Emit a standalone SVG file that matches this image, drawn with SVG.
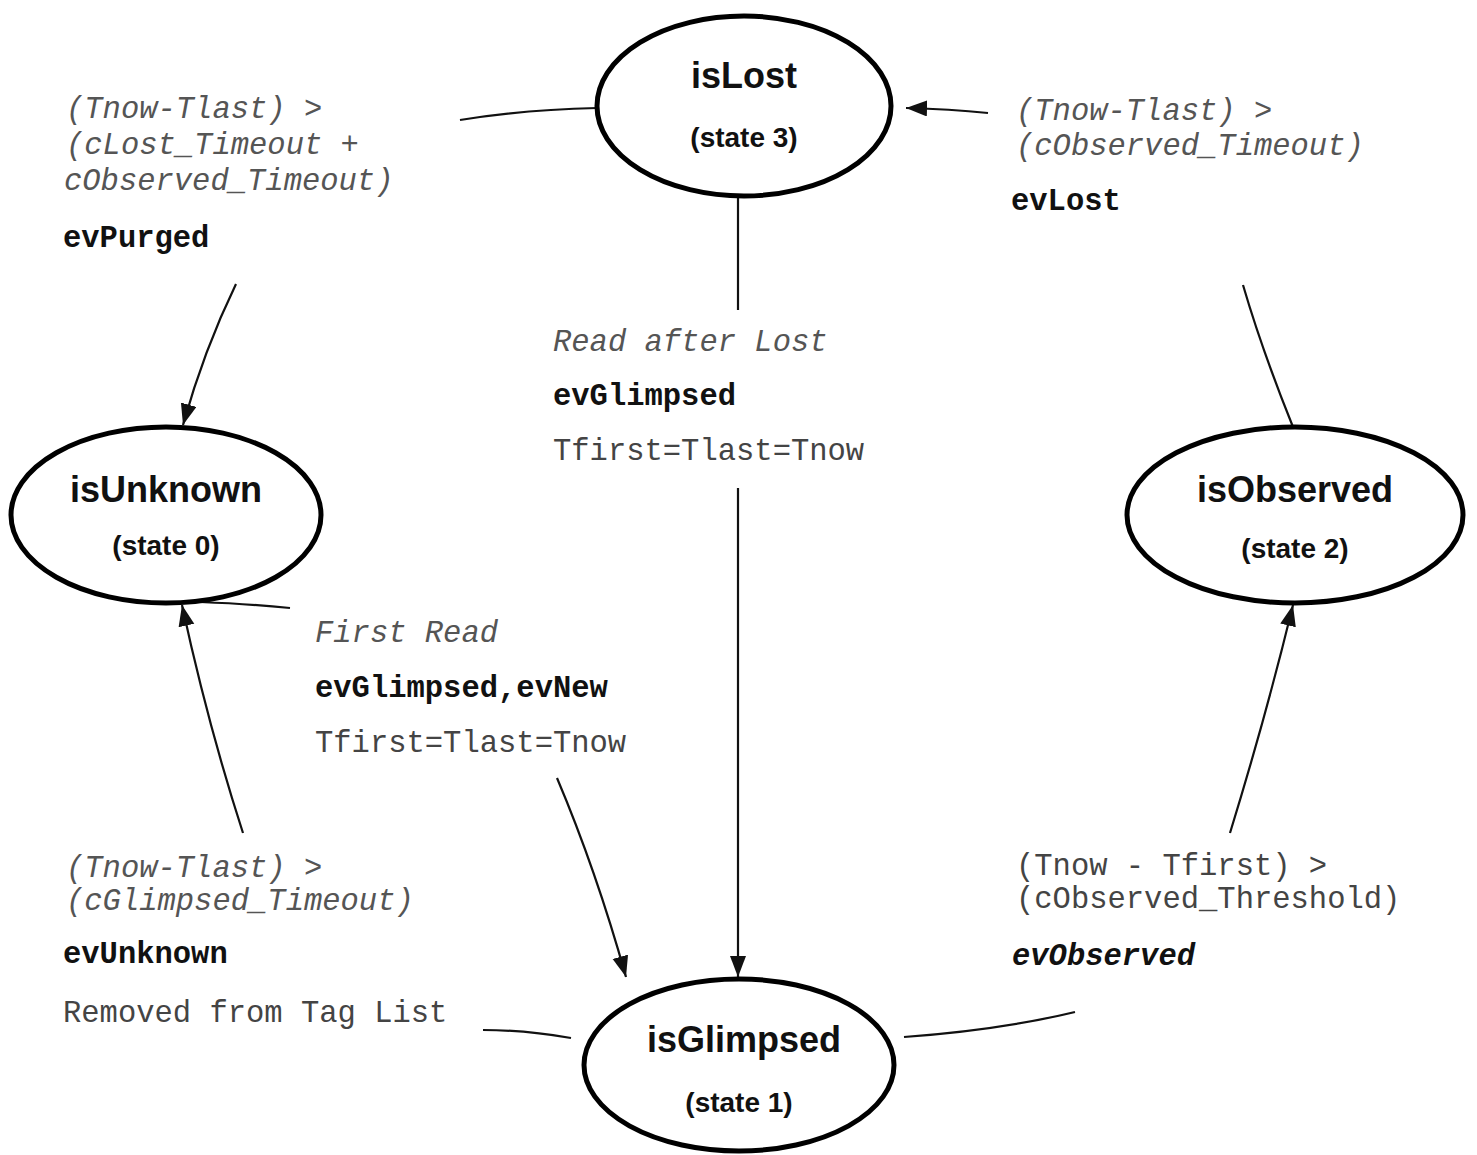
<svg xmlns="http://www.w3.org/2000/svg" width="1477" height="1155" viewBox="0 0 1477 1155">
  <defs>
    <marker id="arrow" markerUnits="userSpaceOnUse" markerWidth="24" markerHeight="18" refX="21" refY="8" orient="auto">
      <path d="M0,0 L21,8 L0,16 z" fill="#111"/>
    </marker>
    <style>
      .state { fill: #fff; stroke: #000; stroke-width: 5; }
      .title { font-family: "Liberation Sans", Arial, sans-serif; font-weight: bold; font-size: 36px; fill: #111; text-anchor: middle; }
      .sub { font-family: "Liberation Sans", Arial, sans-serif; font-weight: bold; font-size: 28px; fill: #111; text-anchor: middle; }
      .edge { fill: none; stroke: #111; stroke-width: 2.2; }
      .cond { font-family: "Liberation Mono", "Courier New", monospace; font-style: italic; font-size: 30.5px; fill: #555; }
      .plain { font-family: "Liberation Mono", "Courier New", monospace; font-size: 30.5px; fill: #444; }
      .ev { font-family: "Liberation Mono", "Courier New", monospace; font-weight: bold; font-size: 30.5px; fill: #111; }
      .evi { font-family: "Liberation Mono", "Courier New", monospace; font-weight: bold; font-style: italic; font-size: 30.5px; fill: #111; }
    </style>
  </defs>

  <rect width="1477" height="1155" fill="#fff"/>

  <!-- transitions -->
  <g id="connectors">
    <!-- isLost -> isUnknown -->
    <path class="edge" d="M597,108 Q520,110 460,120"/>
    <path class="edge" d="M236,284 Q204,350 183,425" marker-end="url(#arrow)"/>
    <!-- isObserved -> isLost -->
    <path class="edge" d="M1293,427 Q1262,350 1243,285"/>
    <path class="edge" d="M988,113 Q950,109 906,108" marker-end="url(#arrow)"/>
    <!-- isLost -> isGlimpsed -->
    <path class="edge" d="M738,197 L738,310"/>
    <path class="edge" d="M738,488 L738,977" marker-end="url(#arrow)"/>
    <!-- isUnknown -> isGlimpsed -->
    <path class="edge" d="M200,602 Q250,604 290,608"/>
    <path class="edge" d="M557,778 Q596,870 626,977" marker-end="url(#arrow)"/>
    <!-- isGlimpsed -> isUnknown -->
    <path class="edge" d="M571,1038 Q525,1030 483,1030"/>
    <path class="edge" d="M243,833 Q208,725 182,605" marker-end="url(#arrow)"/>
    <!-- isGlimpsed -> isObserved -->
    <path class="edge" d="M904,1037 Q1000,1030 1075,1012"/>
    <path class="edge" d="M1230,833 Q1266,716 1293,605" marker-end="url(#arrow)"/>
  </g>

  <!-- states -->
  <g id="isLost">
    <ellipse class="state" cx="744" cy="106" rx="147" ry="90"/>
    <text class="title" x="744" y="88">isLost</text>
    <text class="sub" x="744" y="147">(state 3)</text>
  </g>
  <g id="isUnknown">
    <ellipse class="state" cx="166" cy="515" rx="155" ry="88"/>
    <text class="title" x="166" y="502">isUnknown</text>
    <text class="sub" x="166" y="555">(state 0)</text>
  </g>
  <g id="isObserved">
    <ellipse class="state" cx="1295" cy="515" rx="168" ry="88"/>
    <text class="title" x="1295" y="502">isObserved</text>
    <text class="sub" x="1295" y="558">(state 2)</text>
  </g>
  <g id="isGlimpsed">
    <ellipse class="state" cx="739" cy="1065" rx="155" ry="86"/>
    <text class="title" x="744" y="1052">isGlimpsed</text>
    <text class="sub" x="739" y="1112">(state 1)</text>
  </g>

  <!-- transition labels -->
  <g id="label-purged">
    <text class="cond" x="66" y="118">(Tnow-Tlast) &gt;</text>
    <text class="cond" x="66" y="154">(cLost_Timeout +</text>
    <text class="cond" x="64" y="190">cObserved_Timeout)</text>
    <text class="ev" x="63" y="247">evPurged</text>
  </g>
  <g id="label-lost">
    <text class="cond" x="1016" y="120">(Tnow-Tlast) &gt;</text>
    <text class="cond" x="1016" y="155">(cObserved_Timeout)</text>
    <text class="ev" x="1011" y="210">evLost</text>
  </g>
  <g id="label-readafterlost">
    <text class="cond" x="553" y="351">Read after Lost</text>
    <text class="ev" x="553" y="405">evGlimpsed</text>
    <text class="plain" x="553" y="460">Tfirst=Tlast=Tnow</text>
  </g>
  <g id="label-firstread">
    <text class="cond" x="315" y="642">First Read</text>
    <text class="ev" x="315" y="697">evGlimpsed,evNew</text>
    <text class="plain" x="315" y="752">Tfirst=Tlast=Tnow</text>
  </g>
  <g id="label-unknown">
    <text class="cond" x="66" y="877">(Tnow-Tlast) &gt;</text>
    <text class="cond" x="66" y="910">(cGlimpsed_Timeout)</text>
    <text class="ev" x="63" y="963">evUnknown</text>
    <text class="plain" x="63" y="1022">Removed from Tag List</text>
  </g>
  <g id="label-observed">
    <text class="plain" x="1016" y="875" xml:space="preserve">(Tnow - Tfirst) &gt;</text>
    <text class="plain" x="1016" y="908">(cObserved_Threshold)</text>
    <text class="evi" x="1012" y="965">evObserved</text>
  </g>
</svg>
